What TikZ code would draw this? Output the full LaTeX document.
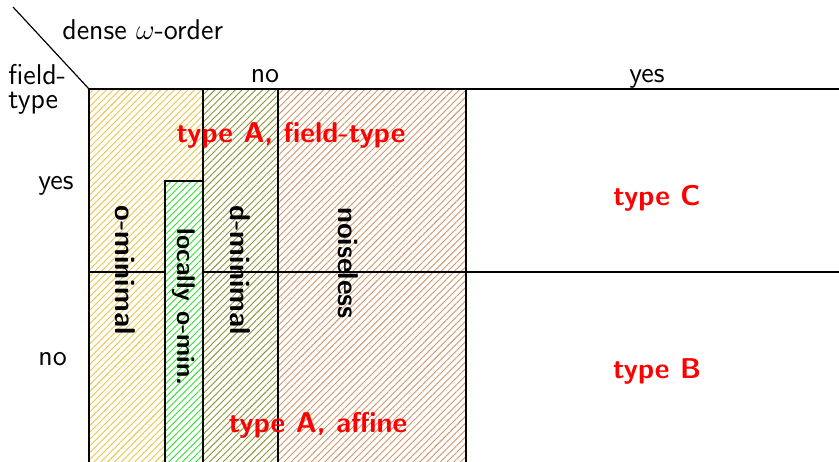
\documentclass[tikz,border=0pt]{standalone}
\usetikzlibrary{patterns.meta}
\definecolor{ominc}{RGB}{236,196,70}
\definecolor{dminc}{RGB}{140,148,55}
\definecolor{noisec}{RGB}{210,150,105}
\definecolor{locc}{RGB}{50,225,50}
\tikzset{
  rule/.style={line width=0.6pt, black},
  hatch/.style={pattern={Lines[angle=45,distance=2.4pt,line width=0.45pt]}, pattern color=#1},
  plain/.style={font=\sffamily\fontsize{14.3}{12}\selectfont},
  verdict/.style={text=red, font=\sffamily\bfseries\fontsize{14.3}{14.3}\selectfont},
  classname/.style={rotate=-90, font=\sffamily\bfseries\fontsize{14.3}{14.3}\selectfont},
}
\begin{document}
\begin{tikzpicture}[x=0.5pt, y=-0.5pt,
  every node/.style={inner sep=0pt}]
\useasboundingbox (0,0) rectangle (839,461);
\begin{scope}
\clip (0,0) rectangle (839,461);
% hatched classes
\path[hatch=ominc]  (89,89)  rectangle (203,470);
\path[hatch=dminc]  (203,89) rectangle (278,470);
\path[hatch=noisec] (278,89) rectangle (466,470);
% table rules
\draw[rule] (13,7) -- (89,89);
\draw[rule] (89,89) -- (839,89);
\draw[rule] (89,272) -- (839,272);
\draw[rule] (89,89) -- (89,470);
\draw[rule] (203,89) -- (203,470);
\draw[rule] (278,89) -- (278,470);
\draw[rule] (466,89) -- (466,470);
% locally o-minimal strip
\draw[rule, fill=white] (165,181) rectangle (203,470);
\path[hatch=locc] (165,181) rectangle (203,470);
\draw[rule] (165,181) rectangle (203,470);
\end{scope}
% headers
\node[plain, anchor=base west] (dense) at (62,39) {dense $\omega$-order};
\node[plain, anchor=north west, align=left] (ft) at (8,64) {field-\\type};
\node[plain, anchor=base] (colno) at (265,82) {no};
\node[plain, anchor=base] (colyes) at (647,82) {yes};
\node[plain, anchor=base west] (rowyes) at (38,189) {yes};
\node[plain, anchor=base west] (rowno) at (38,365) {no};
% verdicts
\node[verdict, anchor=base] (afield) at (291,142) {type A, field-type};
\node[verdict, anchor=base] (tc) at (657,205) {type C};
\node[verdict, anchor=base] (tb) at (657,378) {type B};
\node[verdict, anchor=base] (aaff) at (318,432) {type A, affine};
% class names
\node[classname] (omin) at (125,270) {o-minimal};
\node[classname, font=\sffamily\bfseries\fontsize{12.8}{12.8}\selectfont] (lomin) at (184,307) {locally o-min.};
\node[classname] (dmin) at (240,270) {d-minimal};
\node[classname] (noisy) at (348,263) {noiseless};
\end{tikzpicture}
\end{document}
